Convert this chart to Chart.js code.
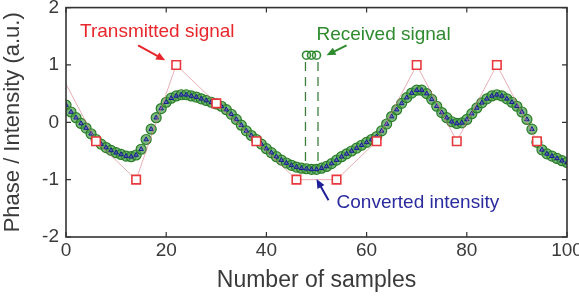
<!DOCTYPE html>
<html>
<head>
<meta charset="utf-8">
<script src="https://cdn.jsdelivr.net/npm/chart.js@4.4.0/dist/chart.umd.min.js"></script>
<style>
html, body { margin: 0; padding: 0; background: #fff; }
</style>
</head>
<body>
<canvas id="chart" width="579" height="296"></canvas>
<script>
// sample index 0..100
const samples = Array.from({ length: 101 }, (_, i) => i);

// received signal, converted intensity sits on it
const receivedSignal = [
    0.30, 0.18, 0.08, -0.02, -0.10, -0.20, -0.30, -0.38, -0.44, -0.49,
    -0.53, -0.56, -0.59, -0.60, -0.57, -0.47, -0.30, -0.12, 0.08, 0.24,
    0.35, 0.42, 0.46, 0.48, 0.48, 0.46, 0.44, 0.41, 0.38, 0.35,
    0.32, 0.28, 0.22, 0.14, 0.05, -0.05, -0.15, -0.23, -0.30, -0.38,
    -0.46, -0.53, -0.60, -0.66, -0.71, -0.75, -0.78, -0.80, -0.81, -0.82,
    -0.82, -0.80, -0.77, -0.72, -0.66, -0.60, -0.55, -0.50, -0.45, -0.40,
    -0.35, -0.30, -0.25, -0.15, -0.03, 0.10, 0.22, 0.33, 0.43, 0.51,
    0.56, 0.56, 0.50, 0.40, 0.28, 0.17, 0.08, 0.01, -0.02, -0.01,
    0.05, 0.15, 0.25, 0.34, 0.41, 0.46, 0.48, 0.46, 0.41, 0.35,
    0.28, 0.18, 0.05, -0.12, -0.35, -0.48, -0.55, -0.59, -0.63, -0.67,
    -0.70
];
const convertedIntensity = receivedSignal.slice();

// transmitted symbols, one every 8 samples
const txSamples = [-2, 6, 14, 22, 30, 38, 46, 54, 62, 70, 78, 86, 94];
const txValues = [1, -0.33, -1, 1, 0.33, -0.33, -1, -1, -0.33, 1, -0.33, 1, -0.33];

// little legend marks next to "Received signal"
const legendSamples = [48, 49, 50];
const legendValues = [1.17, 1.17, 1.17];
const dashSamples = [47.8, 50.3];
const dashTop = 1.05;
const dashBottom = -0.68;

const xTicks = [0, 20, 40, 60, 80, 100];
const yTicks = [-2, -1, 0, 1, 2];

const FONT = '"Liberation Sans", Arial, sans-serif';

const toXY = (xs, ys) => xs.map((v, i) => ({ x: v, y: ys[i] }));

const arrow = (ctx, x1, y1, x2, y2, color) => {
    const ang = Math.atan2(y2 - y1, x2 - x1);
    ctx.strokeStyle = color;
    ctx.fillStyle = color;
    ctx.lineWidth = 2;
    ctx.beginPath();
    ctx.moveTo(x1, y1);
    ctx.lineTo(x2 - 6 * Math.cos(ang), y2 - 6 * Math.sin(ang));
    ctx.stroke();
    ctx.beginPath();
    ctx.moveTo(x2, y2);
    ctx.lineTo(x2 - 9 * Math.cos(ang) + 4 * Math.sin(ang), y2 - 9 * Math.sin(ang) - 4 * Math.cos(ang));
    ctx.lineTo(x2 - 9 * Math.cos(ang) - 4 * Math.sin(ang), y2 - 9 * Math.sin(ang) + 4 * Math.cos(ang));
    ctx.closePath();
    ctx.fill();
}

const framePlugin = {
    id: 'frame',
    afterDraw(chart) {
        const ctx = chart.ctx;
        const a = chart.chartArea;
        const x = chart.scales.x, y = chart.scales.y;
        ctx.save();
        ctx.strokeStyle = '#333';
        ctx.lineWidth = 1.6;
        ctx.strokeRect(a.left, a.top, a.right - a.left, a.bottom - a.top);
        ctx.lineWidth = 1.2;
        ctx.beginPath();
        xTicks.forEach(v => {
            const p = x.getPixelForValue(v);
            ctx.moveTo(p, a.bottom); ctx.lineTo(p, a.bottom - 5);
            ctx.moveTo(p, a.top); ctx.lineTo(p, a.top + 5);
        });
        yTicks.forEach(v => {
            const p = y.getPixelForValue(v);
            ctx.moveTo(a.left, p); ctx.lineTo(a.left + 5, p);
            ctx.moveTo(a.right, p); ctx.lineTo(a.right - 5, p);
        });
        ctx.stroke();

        ctx.fillStyle = '#3a3a3a';
        ctx.font = '19px ' + FONT;
        ctx.textBaseline = 'middle';
        ctx.textAlign = 'center';
        xTicks.forEach(v => ctx.fillText(String(v), x.getPixelForValue(v), a.bottom + 14));
        ctx.textAlign = 'right';
        yTicks.forEach(v => ctx.fillText(String(v), a.left - 7, y.getPixelForValue(v)));

        ctx.font = '23px ' + FONT;
        ctx.textAlign = 'center';
        ctx.fillText('Number of samples', (a.left + a.right) / 2, 281);
        ctx.save();
        ctx.translate(13, (a.top + a.bottom) / 2);
        ctx.rotate(-Math.PI / 2);
        ctx.font = '22px ' + FONT;
        ctx.fillText('Phase / Intensity (a.u.)', 0, 0);
        ctx.restore();

        // annotations
        ctx.font = '19px ' + FONT;
        ctx.textAlign = 'left';
        ctx.fillStyle = '#e8262b';
        ctx.fillText('Transmitted signal', x.getPixelForValue(2.8), y.getPixelForValue(1.58));
        arrow(ctx, x.getPixelForValue(14.4), y.getPixelForValue(1.34), x.getPixelForValue(19.8), y.getPixelForValue(1.08), '#e8262b');

        ctx.fillStyle = '#2e8b2e';
        ctx.fillText('Received signal', x.getPixelForValue(50), y.getPixelForValue(1.53));
        arrow(ctx, x.getPixelForValue(56), y.getPixelForValue(1.34), x.getPixelForValue(52), y.getPixelForValue(1.17), '#2e8b2e');

        ctx.fillStyle = '#2b2ba0';
        ctx.fillText('Converted intensity', x.getPixelForValue(54), y.getPixelForValue(-1.41));
        arrow(ctx, x.getPixelForValue(52.4), y.getPixelForValue(-1.36), x.getPixelForValue(50), y.getPixelForValue(-0.99), '#1f1f99');
        ctx.restore();
    }
};

const dashSets = dashSamples.map(s => ({
    type: 'line',
    data: [{ x: s, y: dashTop }, { x: s, y: dashBottom }],
    borderColor: '#3c7d3c',
    borderWidth: 1.3,
    borderDash: [9, 6],
    pointRadius: 0,
    order: 4
}));

new Chart(document.getElementById('chart'), {
    type: 'scatter',
    data: {
        datasets: [{
            type: 'line',
            label: 'Transmitted signal',
            data: toXY(txSamples, txValues),
            borderColor: 'rgba(215, 120, 130, 0.6)',
            borderWidth: 1,
            pointStyle: 'rect',
            pointRadius: txSamples.map(s => s < 0 ? 0 : 6),
            pointBorderColor: '#e8383d',
            pointBorderWidth: 1.6,
            pointBackgroundColor: '#fff',
            order: 0
        }, {
            label: 'Converted intensity',
            data: toXY(samples, convertedIntensity),
            pointStyle: 'triangle',
            pointRadius: 2.6,
            borderColor: '#1c1c90',
            backgroundColor: 'rgba(90, 90, 200, 0.7)',
            borderWidth: 1,
            order: 1
        }, {
            label: 'Received signal',
            data: toXY(samples, receivedSignal),
            pointRadius: 5,
            borderColor: '#2a7d2a',
            backgroundColor: 'rgba(70, 160, 70, 0.7)',
            borderWidth: 1.2,
            order: 2
        }, {
            label: 'legend',
            data: toXY(legendSamples, legendValues),
            pointRadius: 4,
            borderColor: '#2f8a2f',
            backgroundColor: 'rgba(255, 255, 255, 0)',
            borderWidth: 1.6,
            order: 3
        }, ...dashSets]
    },
    options: {
        responsive: false,
        animation: false,
        layout: { padding: { left: 0, right: 12, top: 5, bottom: 0 } },
        plugins: { legend: { display: false }, tooltip: { enabled: false } },
        scales: {
            x: {
                type: 'linear', min: 0, max: 100,
                grid: { display: false }, border: { display: false },
                ticks: { display: false },
                afterFit: s => { s.height = 59; }
            },
            y: {
                min: -2, max: 2,
                grid: { display: false }, border: { display: false },
                ticks: { display: false },
                afterFit: s => { s.width = 66; }
            }
        }
    },
    plugins: [framePlugin]
});
</script>
</body>
</html>
